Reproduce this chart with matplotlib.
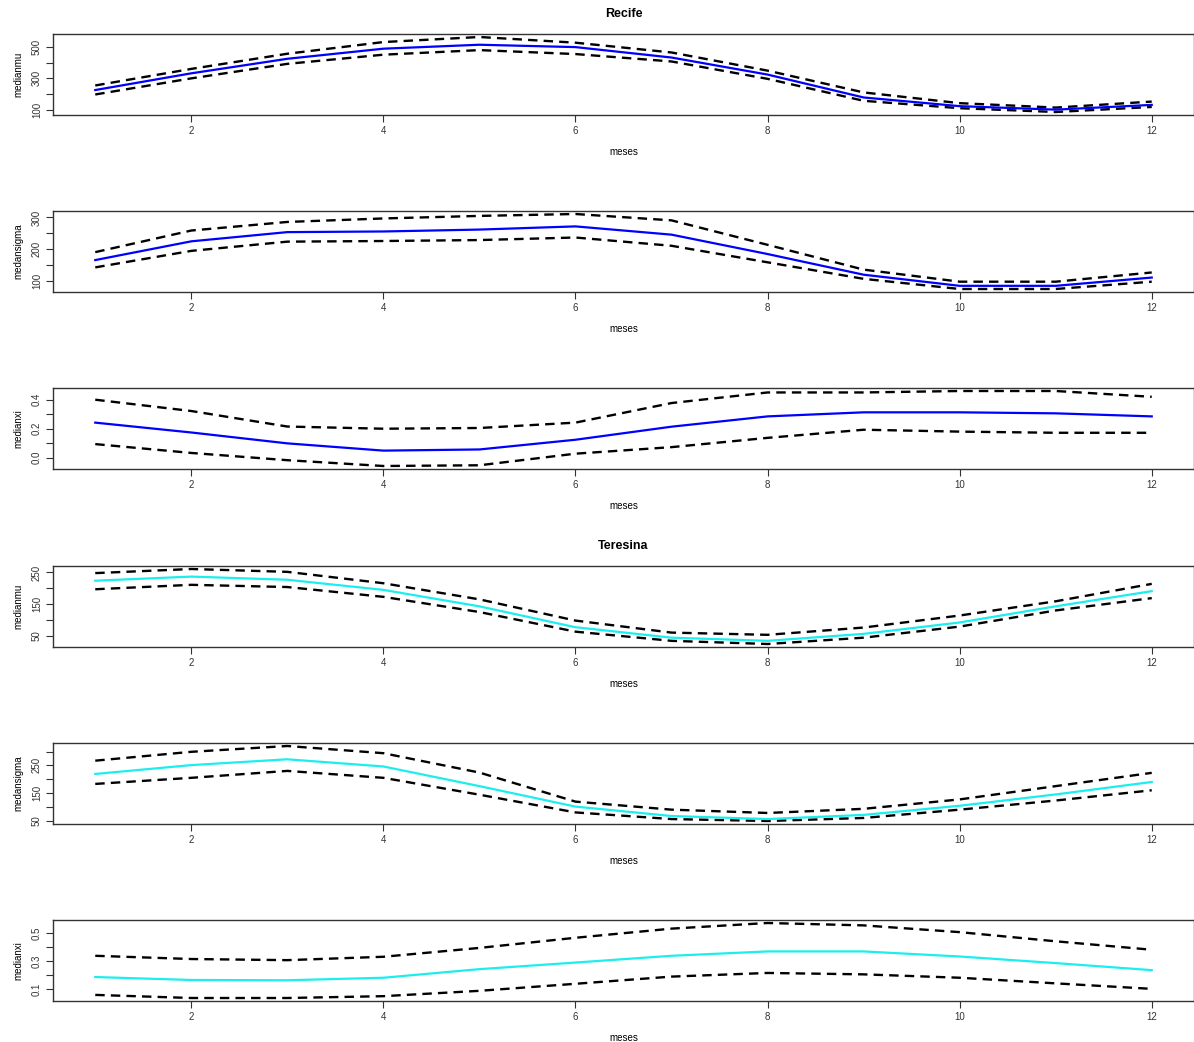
import numpy as np
import matplotlib
matplotlib.use('Agg')
import matplotlib.pyplot as plt

plt.rcParams['font.family'] = ['Liberation Sans', 'DejaVu Sans']

# Monate
meses = np.arange(1, 13)

# Recife
recife_mu = [226, 332, 424, 488, 513, 498, 432, 324, 179, 124, 102, 132]
recife_mu_sup = [255, 360, 456, 530, 562, 526, 464, 349, 211, 143, 115, 153]
recife_mu_inf = [198, 300, 392, 450, 479, 454, 407, 297, 158, 111, 87, 119]

recife_sigma = [166, 225, 254, 256, 262, 272, 246, 185, 120, 85, 85, 111]
recife_sigma_sup = [191, 259, 286, 297, 305, 311, 291, 214, 136, 98, 98, 127]
recife_sigma_inf = [143, 195, 224, 226, 229, 237, 211, 159, 107, 75, 75, 98]

recife_xi = [0.242, 0.174, 0.099, 0.049, 0.057, 0.124, 0.214, 0.285, 0.313, 0.313, 0.306, 0.285]
recife_xi_sup = [0.40, 0.322, 0.215, 0.20, 0.205, 0.242, 0.377, 0.45, 0.45, 0.46, 0.46, 0.42]
recife_xi_inf = [0.094, 0.033, -0.017, -0.057, -0.052, 0.028, 0.073, 0.137, 0.193, 0.18, 0.172, 0.172]

# Teresina
teresina_mu = [224, 237, 227, 195, 143, 77, 44, 34, 56, 92, 143, 191]
teresina_mu_sup = [248, 261, 252, 216, 165, 98, 60, 53, 76, 114, 159, 214]
teresina_mu_inf = [197, 211, 204, 173, 125, 63, 34, 24, 44, 79, 130, 169]

teresina_sigma = [219, 251, 272, 246, 175, 101, 67, 56, 71, 104, 145, 190]
teresina_sigma_sup = [267, 299, 320, 294, 224, 119, 90, 78, 93, 127, 175, 223]
teresina_sigma_inf = [183, 205, 230, 205, 144, 80, 56, 49, 60, 90, 123, 160]

teresina_xi = [0.186, 0.165, 0.163, 0.181, 0.242, 0.289, 0.337, 0.368, 0.368, 0.332, 0.285, 0.235]
teresina_xi_sup = [0.337, 0.314, 0.306, 0.33, 0.393, 0.465, 0.53, 0.57, 0.553, 0.505, 0.44, 0.38]
teresina_xi_inf = [0.059, 0.037, 0.037, 0.05, 0.088, 0.138, 0.189, 0.215, 0.205, 0.181, 0.141, 0.102]

paineis = [
    ('medianmu', recife_mu, recife_mu_sup, recife_mu_inf, 'blue',
     [100, 200, 300, 400, 500], ['100', '', '300', '', '500'], 'Recife'),
    ('medansigma', recife_sigma, recife_sigma_sup, recife_sigma_inf, 'blue',
     [100, 150, 200, 250, 300], ['100', '', '200', '', '300'], None),
    ('medianxi', recife_xi, recife_xi_sup, recife_xi_inf, 'blue',
     [0.0, 0.1, 0.2, 0.3, 0.4], ['0.0', '', '0.2', '', '0.4'], None),
    ('medianmu', teresina_mu, teresina_mu_sup, teresina_mu_inf, '#1CEEEE',
     [50, 100, 150, 200, 250], ['50', '', '150', '', '250'], 'Teresina'),
    ('medansigma', teresina_sigma, teresina_sigma_sup, teresina_sigma_inf, '#1CEEEE',
     [50, 100, 150, 200, 250, 300], ['50', '', '150', '', '250', ''], None),
    ('medianxi', teresina_xi, teresina_xi_sup, teresina_xi_inf, '#1CEEEE',
     [0.1, 0.2, 0.3, 0.4, 0.5], ['0.1', '', '0.3', '', '0.5'], None),
]

W, H = 1194, 1042
fig = plt.figure(figsize=(W / 100, H / 100), dpi=100)

tops = [34, 211, 388, 566, 743, 920]
altura = 81
esq, dir_ = 53, 1194

for (ylab, med, sup, inf, cor, yt, ytl, titulo), top in zip(paineis, tops):
    ax = fig.add_axes([esq / W, 1 - (top + altura) / H, (dir_ - esq) / W, altura / H])
    ax.plot(meses, sup, color='black', lw=1.7, linestyle=(0, (4, 2.6)))
    ax.plot(meses, inf, color='black', lw=1.7, linestyle=(0, (4, 2.6)))
    ax.plot(meses, med, color=cor, lw=1.6)
    ax.margins(x=0.04, y=0.04)
    ax.set_xticks([2, 4, 6, 8, 10, 12])
    ax.set_yticks(yt)
    ax.set_yticklabels(ytl, rotation=90, va='center')
    ax.tick_params(labelsize=7, length=5, width=0.8, colors='#333333', pad=3)
    ax.set_xlabel('meses', fontsize=7, labelpad=8)
    ax.set_ylabel(ylab, fontsize=7, labelpad=6)
    for s in ax.spines.values():
        s.set_color('#333333')
        s.set_linewidth(1)
    if titulo:
        ax.set_title(titulo, fontsize=9, fontweight='bold', pad=12)

fig.savefig('out.png', dpi=100)
